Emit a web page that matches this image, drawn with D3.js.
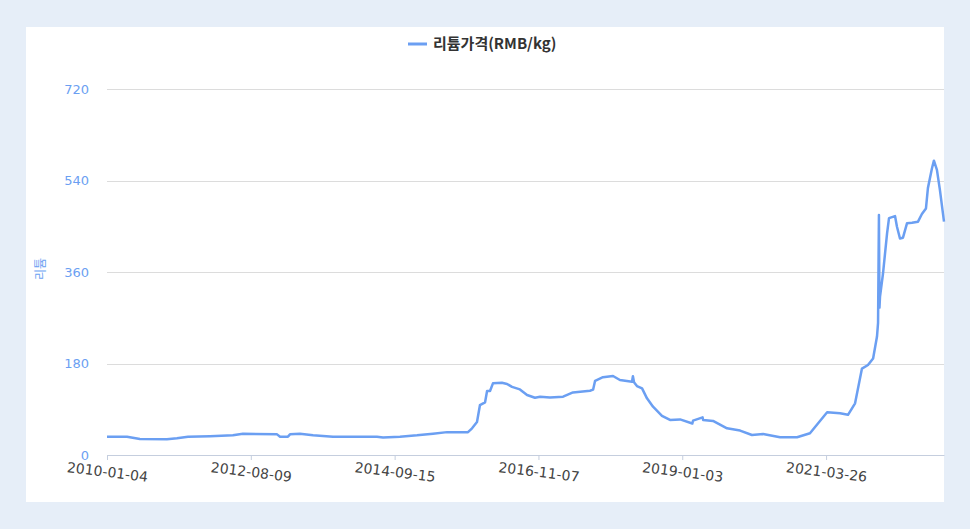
<!DOCTYPE html>
<html>
<head>
<meta charset="utf-8">
<script src="https://cdn.jsdelivr.net/npm/d3@7"></script>
<style>
  body { margin: 0; background: #e6eef8; }
  svg { display: block; font-family: 'Noto Sans CJK KR', 'DejaVu Sans', sans-serif; }
</style>
</head>
<body>
<svg id="chart" width="970" height="529"></svg>
<script>
// x-axis category labels (equal spacing on the original axis)
const tickDates = ['2010-01-04', '2012-08-09', '2014-09-15', '2016-11-07', '2019-01-03', '2021-03-26'];
const lastDate = '2023-01-22';

// price series, RMB/kg
const dates = [
  '2010-01-04', '2010-01-10', '2010-05-16', '2010-08-09', '2011-02-03', '2011-04-10', '2011-06-22',
  '2011-11-14', '2012-04-13', '2012-06-18', '2012-12-27', '2013-01-12', '2013-02-23', '2013-03-06',
  '2013-04-28', '2013-07-07', '2013-10-21', '2014-06-13', '2014-07-15', '2014-10-14', '2015-01-15',
  '2015-04-12', '2015-06-28', '2015-10-20', '2015-11-11', '2015-12-08', '2015-12-24', '2016-01-21',
  '2016-02-01', '2016-02-17', '2016-03-04', '2016-04-22', '2016-05-20', '2016-06-16', '2016-07-29',
  '2016-09-06', '2016-10-19', '2016-11-16', '2017-01-09', '2017-03-22', '2017-05-15', '2017-08-16',
  '2017-09-02', '2017-09-13', '2017-10-26', '2017-12-20', '2018-01-27', '2018-04-03', '2018-04-08',
  '2018-04-14', '2018-04-30', '2018-05-28', '2018-06-24', '2018-07-27', '2018-09-14', '2018-10-28',
  '2018-12-22', '2019-03-01', '2019-03-05', '2019-04-28', '2019-05-01', '2019-06-26', '2019-09-13',
  '2019-11-26', '2020-02-01', '2020-04-04', '2020-07-09', '2020-10-13', '2020-12-25', '2021-02-08',
  '2021-04-01', '2021-06-13', '2021-07-28', '2021-09-06', '2021-10-15', '2021-11-18', '2021-12-17',
  '2022-01-08', '2022-01-14', '2022-01-19', '2022-01-22', '2022-01-25', '2022-02-11', '2022-03-06',
  '2022-03-17', '2022-04-20', '2022-05-01', '2022-05-18', '2022-06-04', '2022-06-27', '2022-07-25',
  '2022-08-28', '2022-09-19', '2022-10-12', '2022-10-23', '2022-11-15', '2022-11-26', '2022-12-13',
  '2022-12-30', '2023-01-22'
];
const prices = [
  36, 36, 36, 31.5, 31, 33, 36,
  37, 38.7, 42, 40.6, 36, 36, 40.6,
  42, 38.7, 36, 36, 34.5, 36, 38.7,
  42, 45, 45, 52.5, 65, 98, 103.6,
  126, 126, 141, 142, 139.7, 134, 129,
  118, 112.7, 114.7, 113, 114.7, 123, 126.5,
  128.5, 146, 153, 155.5, 147.5, 144, 155,
  143, 135.7, 131, 111.5, 95, 77, 69,
  70, 62, 67.5, 74, 69, 67, 52.5,
  48, 39.3, 41.3, 34.8, 34.8, 42.7, 62,
  84, 82, 79, 101.7, 170, 177, 190,
  233, 260, 472, 290, 311, 357, 436,
  466, 470, 449, 426, 427.5, 456, 457,
  459, 474, 485, 525, 564, 579, 561,
  521, 459
];
const yTicks = [0, 180, 360, 540, 720];

const seriesName = '리튬가격(RMB/kg)';
const yName = '리튬';

const blue = '#6b9ff2';
const padding = { top: 89, right: 26, bottom: 74, left: 107 };
const width = 970;
const height = 529;
const plotWidth = width - padding.left - padding.right;
const plotHeight = height - padding.top - padding.bottom;

const parse = d3.timeParse('%Y-%m-%d');
const data = dates.map((d, i) => ({ date: parse(d), value: prices[i] }));

// category labels sit at equal steps, so map dates piecewise between them
const step = plotWidth / (tickDates.length - 1 + 0.82);
const xDomain = tickDates.concat([lastDate]).map(parse);
const xRange = tickDates.map((d, i) => i * step).concat([plotWidth]);
const xScale = d3.scaleTime().domain(xDomain).range(xRange);

const yScale = d3.scaleLinear().domain([0, 720]).range([plotHeight, 0]);

const svg = d3.select('#chart');

// white panel
svg.append('rect')
  .attr('x', 26).attr('y', 27)
  .attr('width', 918).attr('height', 475)
  .attr('fill', '#fff');

const g = svg.append('g').attr('transform', `translate(${padding.left} ${padding.top})`);

// grid
g.append('g')
  .selectAll('line')
  .data(yTicks.filter(d => d > 0))
  .join('line')
  .attr('x1', 0)
  .attr('x2', plotWidth)
  .attr('y1', d => Math.round(yScale(d)) + 0.5)
  .attr('y2', d => Math.round(yScale(d)) + 0.5)
  .attr('stroke', '#dcdcdc');

// y axis labels
const yAxis = d3.axisLeft(yScale).tickValues(yTicks).tickSize(0).tickPadding(18);
g.append('g')
  .call(yAxis)
  .call(s => s.select('.domain').remove())
  .call(s => s.selectAll('text')
    .attr('fill', blue)
    .attr('font-size', 13)
    .attr('font-family', "'DejaVu Sans', sans-serif"));

// x axis
const xAxis = d3.axisBottom(xScale)
  .tickValues(tickDates.map(parse))
  .tickFormat(d3.timeFormat('%Y-%m-%d'))
  .tickSize(5)
  .tickSizeOuter(0);

g.append('g')
  .attr('transform', `translate(0 ${plotHeight})`)
  .call(xAxis)
  .call(s => s.select('.domain').attr('stroke', '#c5cede'))
  .call(s => s.selectAll('.tick line').attr('stroke', '#c5cede'))
  .call(s => s.selectAll('.tick text')
    .attr('fill', '#444')
    .attr('font-size', 14)
    .attr('font-family', "'DejaVu Sans', sans-serif")
    .attr('y', 0)
    .attr('dy', '0.35em')
    .attr('text-anchor', 'middle')
    .attr('transform', 'translate(0 17) rotate(7)'));

// line
const lineGen = d3.line()
  .x(d => xScale(d.date))
  .y(d => yScale(d.value));

g.append('path')
  .datum(data)
  .attr('fill', 'none')
  .attr('stroke', blue)
  .attr('stroke-width', 2.5)
  .attr('stroke-linejoin', 'round')
  .attr('d', lineGen);

// y axis name
svg.append('text')
  .attr('transform', `translate(45 ${padding.top + plotHeight / 2 - 3}) rotate(-90)`)
  .attr('text-anchor', 'middle')
  .attr('fill', blue)
  .attr('font-size', 12)
  .text(yName);

// legend
const legend = svg.append('g').attr('transform', 'translate(408 44)');
legend.append('line')
  .attr('x1', 0).attr('x2', 19)
  .attr('stroke', blue)
  .attr('stroke-width', 3);
legend.append('text')
  .attr('x', 25)
  .attr('dy', '0.35em')
  .attr('fill', '#333')
  .attr('font-size', 15)
  .attr('font-weight', 'bold')
  .text(seriesName);
</script>
</body>
</html>
